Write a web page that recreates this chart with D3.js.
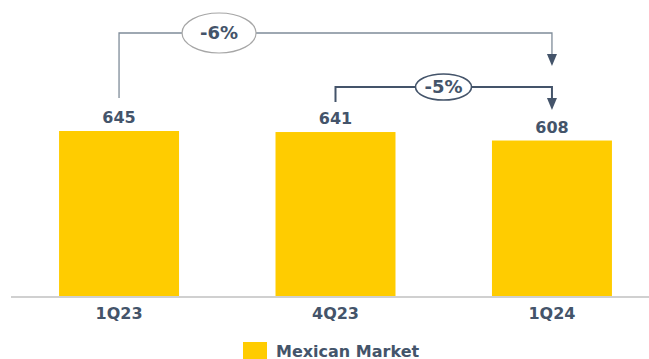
<!DOCTYPE html>
<html>
<head>
<meta charset="utf-8">
<script src="https://cdn.jsdelivr.net/npm/d3@7"></script>
<style>
  html, body { margin: 0; padding: 0; background: #fff; }
  svg { display: block; }
  text { font-family: "DejaVu Sans", Verdana, sans-serif; }
</style>
</head>
<body>
<svg id="chart" width="649" height="359"></svg>
<script>
// Quarterly volumes for the Mexican market
const categories = ["1Q23", "4Q23", "1Q24"];
const values = [645, 641, 608];
const seriesName = "Mexican Market";
// Comparisons drawn as bracket arrows: [from index, to index]
const comparisons = [[0, 2], [1, 2]];

const W = 649, H = 359;
const barColor = "#FFCC00";
const ink = "#44546A";
const baseY = 297;

const svg = d3.select("#chart");

const x = d3.scaleBand()
  .domain(categories)
  .range([11, 660])
  .paddingInner(0.4457)
  .paddingOuter(0.222);

const y = d3.scaleLinear()
  .domain([0, 645])
  .range([baseY, 131]);

// bars
svg.append("g").selectAll("rect")
  .data(values)
  .join("rect")
  .attr("x", (d, i) => x(categories[i]))
  .attr("y", d => y(d))
  .attr("width", x.bandwidth())
  .attr("height", d => baseY - y(d))
  .attr("fill", barColor);

// baseline
svg.append("line")
  .attr("x1", 11).attr("x2", W)
  .attr("y1", baseY).attr("y2", baseY)
  .attr("stroke", "#D0D0D0").attr("stroke-width", 2);

// category labels
const xAxis = d3.axisBottom(x).tickSize(0).tickPadding(0);
const gx = svg.append("g").attr("transform", `translate(0,${baseY})`).call(xAxis);
gx.select(".domain").remove();
gx.selectAll("text")
  .attr("y", 22)
  .attr("dy", null)
  .attr("font-family", "DejaVu Sans, Verdana, sans-serif")
  .attr("font-size", 16)
  .attr("font-weight", "bold")
  .attr("fill", ink);

// value labels
svg.append("g").selectAll("text")
  .data(values)
  .join("text")
  .attr("x", (d, i) => x(categories[i]) + x.bandwidth() / 2)
  .attr("y", d => y(d) - 8)
  .attr("text-anchor", "middle")
  .attr("font-size", 16)
  .attr("font-weight", "bold")
  .attr("fill", ink)
  .text(d => d);

// bracket arrows with percentage change
const pct = d3.format(".0%");
const cx = i => x(categories[i]) + x.bandwidth() / 2;
const bracketStyles = [
  { level: 33, startY: 98, tipY: 66, line: "#7F8C99", lw: 1.3, ell: "#A6A6A6", ellW: 1.2, rx: 37, ry: 20, cxOff: 100 },
  { level: 87, startY: 102, tipY: 110, line: ink, lw: 2, ell: ink, ellW: 1.6, rx: 28, ry: 13, cxOff: 108 }
];

comparisons.forEach(([a, b], k) => {
  const s = bracketStyles[k];
  const x0 = cx(a), x1 = cx(b);
  const g = svg.append("g");
  const headH = 12, headW = 10;
  g.append("path")
    .attr("d", `M${x0},${s.startY}V${s.level}H${x1}V${s.tipY - headH}`)
    .attr("fill", "none")
    .attr("stroke", s.line)
    .attr("stroke-width", s.lw);
  g.append("path")
    .attr("d", `M${x1 - headW / 2},${s.tipY - headH}L${x1 + headW / 2},${s.tipY - headH}L${x1},${s.tipY}Z`)
    .attr("fill", ink);
  const ex = x0 + s.cxOff;
  g.append("ellipse")
    .attr("cx", ex).attr("cy", s.level)
    .attr("rx", s.rx).attr("ry", s.ry)
    .attr("fill", "#fff")
    .attr("stroke", s.ell)
    .attr("stroke-width", s.ellW);
  const change = values[b] / values[a] - 1;
  g.append("text")
    .attr("x", ex).attr("y", s.level)
    .attr("dy", "0.36em")
    .attr("text-anchor", "middle")
    .attr("font-size", 18)
    .attr("font-weight", "bold")
    .attr("fill", ink)
    .text(pct(change).replace("−", "-"));
});

// legend
const lg = svg.append("g").attr("transform", "translate(243,342)");
lg.append("rect").attr("width", 24).attr("height", 24).attr("fill", barColor);
lg.append("text")
  .attr("x", 33).attr("y", 14.5)
  .attr("font-size", 16)
  .attr("font-weight", "bold")
  .attr("fill", ink)
  .text(seriesName);
</script>
</body>
</html>
